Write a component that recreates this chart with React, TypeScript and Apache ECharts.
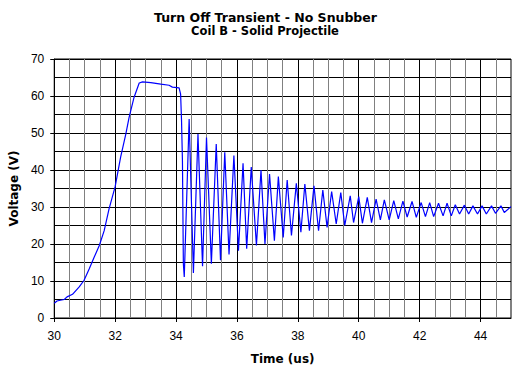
import { useEffect, useRef } from "react";
import * as echarts from "echarts";

const FONT = '"Liberation Sans", Arial, sans-serif';
const BOLD_FONT = '"DejaVu Sans", Verdana, sans-serif';

const chartTitle = "Turn Off Transient - No Snubber";
const chartSubtitle = "Coil B - Solid Projectile";
const xAxisName = "Time (us)";
const yAxisName = "Voltage (V)";

const xMajorTicks = [30, 32, 34, 36, 38, 40, 42, 44];

// Time (us)
const timeUs = [
  30.0, 30.09, 30.2, 30.33, 30.42, 30.6, 30.82, 30.98, 31.15, 31.31, 31.48, 31.64, 31.8, 32.0,
  32.18, 32.35, 32.46, 32.62, 32.79, 32.9, 33.17, 33.5, 33.77, 33.88, 34.1, 34.15, 34.18, 34.21,
  34.24, 34.27, 34.43, 34.57, 34.72, 34.87, 35.0, 35.16, 35.32, 35.46, 35.6, 35.74, 35.9, 36.05,
  36.2, 36.32, 36.47, 36.64, 36.79, 36.92, 37.07, 37.23, 37.36, 37.52, 37.65, 37.79, 37.95, 38.1,
  38.23, 38.38, 38.53, 38.68, 38.82, 38.96, 39.11, 39.26, 39.41, 39.54, 39.72, 39.83, 40.0, 40.12,
  40.28, 40.42, 40.57, 40.71, 40.84, 41.0, 41.15, 41.3, 41.45, 41.59, 41.75, 41.89, 42.05, 42.19,
  42.33, 42.46, 42.62, 42.77, 42.9, 43.04, 43.17, 43.31, 43.47, 43.61, 43.75, 43.9, 44.05, 44.19,
  44.36, 44.49, 44.67, 44.78, 45.0,
];

// Voltage (V)
const voltage = [
  4.0, 4.6, 4.8, 5.0, 5.7, 6.4, 8.4, 10.2, 13.3, 16.4, 19.6, 23.6, 29.5, 35.5,
  43.5, 49.7, 54.3, 59.6, 63.5, 63.8, 63.6, 63.2, 62.9, 62.4, 62.2, 60.5, 53.4, 42.5,
  14.7, 11.1, 53.8, 12.2, 49.7, 14.0, 48.8, 14.7, 47.0, 15.6, 44.8, 17.2, 43.9, 18.2,
  41.8, 18.7, 40.8, 19.6, 40.0, 20.0, 38.9, 20.9, 38.2, 21.8, 37.3, 22.3, 36.4, 23.2,
  36.2, 23.6, 35.7, 23.6, 34.6, 24.5, 34.2, 25.4, 33.9, 25.0, 33.0, 25.8, 32.8, 25.6,
  32.6, 25.8, 32.1, 26.5, 31.9, 26.5, 31.7, 26.8, 31.6, 27.3, 31.5, 27.2, 31.2, 27.4,
  31.2, 27.4, 31.0, 27.6, 31.0, 27.6, 30.6, 28.1, 30.5, 28.1, 30.3, 28.1, 30.3, 28.1,
  30.3, 28.3, 30.3, 28.5, 30.1,
];

export default function App() {
  const ref = useRef<HTMLDivElement>(null);

  useEffect(() => {
    if (!ref.current) return;
    const chart = echarts.init(ref.current, null, { renderer: "svg" });
    chart.setOption({
      animation: false,
      backgroundColor: "#ffffff",
      textStyle: { fontFamily: FONT },
      graphic: [
        {
          type: "text",
          x: 265.5,
          y: 17,
          style: {
            text: chartTitle,
            fill: "#000",
            font: `bold 12.5px ${BOLD_FONT}`,
            textAlign: "center",
            align: "center",
            textVerticalAlign: "middle",
            verticalAlign: "middle",
          },
        },
        {
          type: "text",
          x: 265,
          y: 31,
          style: {
            text: chartSubtitle,
            fill: "#000",
            font: `bold 11.5px ${BOLD_FONT}`,
            textAlign: "center",
            align: "center",
            textVerticalAlign: "middle",
            verticalAlign: "middle",
          },
        },
      ],
      grid: {
        left: 53,
        right: 9,
        top: 59,
        bottom: 57,
        show: true,
        borderColor: "#000",
        borderWidth: 1,
        backgroundColor: "transparent",
      },
      xAxis: [
        {
          type: "value",
          min: 30,
          max: 45,
          interval: 0.5,
          position: "bottom",
          axisLine: { show: false },
          axisTick: { show: false },
          axisLabel: { show: false },
          splitLine: { show: true, lineStyle: { color: "#808080", width: 1 } },
        },
        {
          type: "value",
          min: 30,
          max: 45,
          interval: 2,
          position: "bottom",
          name: xAxisName,
          nameLocation: "middle",
          nameGap: 35,
          nameTextStyle: { color: "#000", fontSize: 12, fontWeight: "bold", fontFamily: BOLD_FONT },
          axisLine: { show: true, lineStyle: { color: "#000", width: 1 } },
          axisTick: { show: true, length: 4, customValues: xMajorTicks, lineStyle: { color: "#000" } },
          axisLabel: {
            customValues: xMajorTicks,
            color: "#000",
            fontSize: 12,
            fontFamily: FONT,
            margin: 12,
          },
          splitLine: { show: true, lineStyle: { color: "#000", width: 1 } },
        },
      ],
      yAxis: {
        type: "value",
        min: 0,
        max: 70,
        interval: 10,
        name: yAxisName,
        nameLocation: "middle",
        nameGap: 31,
        nameTextStyle: { color: "#000", fontSize: 12, fontWeight: "bold", fontFamily: BOLD_FONT },
        axisLine: { show: true, lineStyle: { color: "#000", width: 1 } },
        axisTick: { show: true, length: 4, lineStyle: { color: "#000" } },
        axisLabel: { color: "#000", fontSize: 12, fontFamily: FONT, margin: 10 },
        splitLine: { show: true, lineStyle: { color: "#000", width: 1 } },
        minorTick: { show: false, splitNumber: 2 },
        minorSplitLine: { show: true, lineStyle: { color: "#000", width: 1 } },
      },
      series: [
        {
          type: "line",
          xAxisIndex: 1,
          yAxisIndex: 0,
          data: timeUs.map((t, i) => [t, voltage[i]]),
          showSymbol: false,
          symbol: "none",
          lineStyle: { color: "#0000ff", width: 1.2 },
          itemStyle: { color: "#0000ff" },
          z: 5,
        },
      ],
    });
    return () => chart.dispose();
  }, []);

  return (
    <div
      ref={ref}
      style={{ position: "absolute", left: 0, top: 0, width: 520, height: 375 }}
    />
  );
}
